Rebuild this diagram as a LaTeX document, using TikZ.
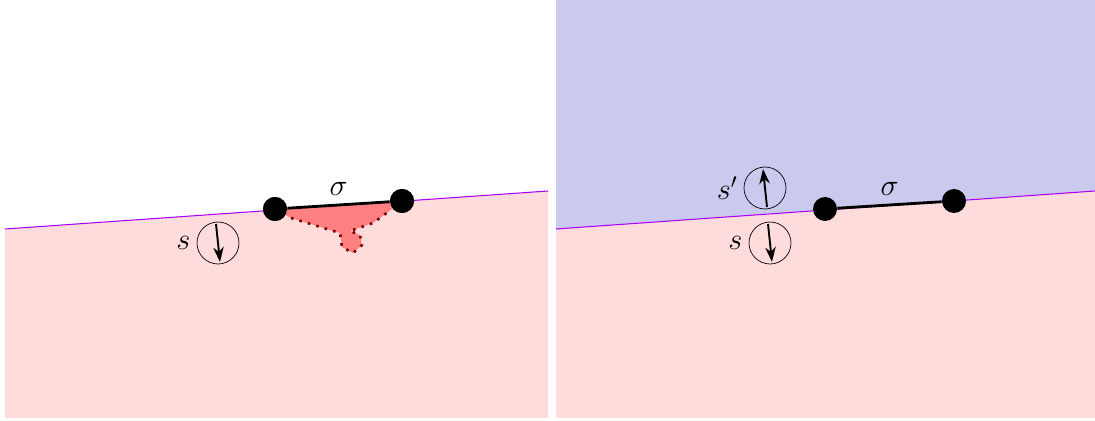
\documentclass[tikz,border=0pt]{standalone}
\usepackage{amsmath}
\usepackage{tikz}
\usetikzlibrary{arrows.meta,calc,positioning}
\definecolor{regionpink}{HTML}{FFDCDC}
\definecolor{regionblue}{HTML}{CACAEE}
\definecolor{wallviolet}{HTML}{AA00FF}
\definecolor{blobred}{HTML}{FF8080}
\definecolor{blobdark}{HTML}{800000}

\begin{document}
\begin{tikzpicture}[x=0.02cm, y=-0.02cm, >={Stealth[length=8.5pt,width=6pt]},
  endpt/.style={circle, fill=black, inner sep=0pt, minimum size=0.48cm},
  spin/.style={circle, draw, thin, inner sep=0pt, minimum size=0.84cm},
  lbl/.style={font=\fontsize{18}{21}\selectfont}]
\useasboundingbox (0,0) rectangle (1095,421);
% left panel
\fill[regionpink] (5,229) -- (548,191) -- (548,418) -- (5,418) -- cycle;
\draw[wallviolet, line width=0.6pt] (5,229) -- (548,191);
% right panel
\fill[regionblue] (556,0) -- (1095,0) -- (1095,191) -- (556,229) -- cycle;
\fill[regionpink] (556,229) -- (1095,191) -- (1095,418) -- (556,418) -- cycle;
\draw[wallviolet, line width=0.6pt] (556,229) -- (1095,191);

% left: blob under the segment
\node[endpt] (La) at (275,209) {};
\node[endpt] (Lb) at (402,201) {};
\fill[blobred] (La.center) -- (291,218) -- (340,233) -- (342,247) -- (353,253)
  -- (362,245) -- (360,235) -- (350,231) -- (373,223) -- (388,212) -- (Lb.center) -- cycle;
\draw[blobdark, line width=1.5pt, dash pattern=on 1.5pt off 3.5pt]
  (291,218) -- (340,233) -- (342,247) -- (353,253) -- (362,245) -- (360,235)
  -- (350,231) -- (373,223) -- (388,212);
\node[endpt] at (La) {};
\node[endpt] at (Lb) {};
\draw[line width=1.6pt] (La) -- (Lb) node[midway, above=1pt, lbl] {$\sigma$};
\node[spin] (Ls) at (218,243) {};
\draw[->, line width=1.1pt] ($(Ls.center)+(-2,-19)$) -- ($(Ls.center)+(2,19)$);
\node[lbl, left=0pt of Ls] {$s$};

% right: plain segment on the wall
\node[endpt] (Ra) at (825,209) {};
\node[endpt] (Rb) at (954,201) {};
\draw[line width=1.6pt] (Ra) -- (Rb) node[midway, above=1pt, lbl] {$\sigma$};
\node[spin] (Rt) at (765,188) {};
\draw[->, line width=1.1pt] ($(Rt.center)+(2,19)$) -- ($(Rt.center)+(-2,-19)$);
\node[lbl, left=0pt of Rt] {$s'$};
\node[spin] (Rs) at (770,243) {};
\draw[->, line width=1.1pt] ($(Rs.center)+(-2,-19)$) -- ($(Rs.center)+(2,19)$);
\node[lbl, left=0pt of Rs] {$s$};
\end{tikzpicture}
\end{document}
